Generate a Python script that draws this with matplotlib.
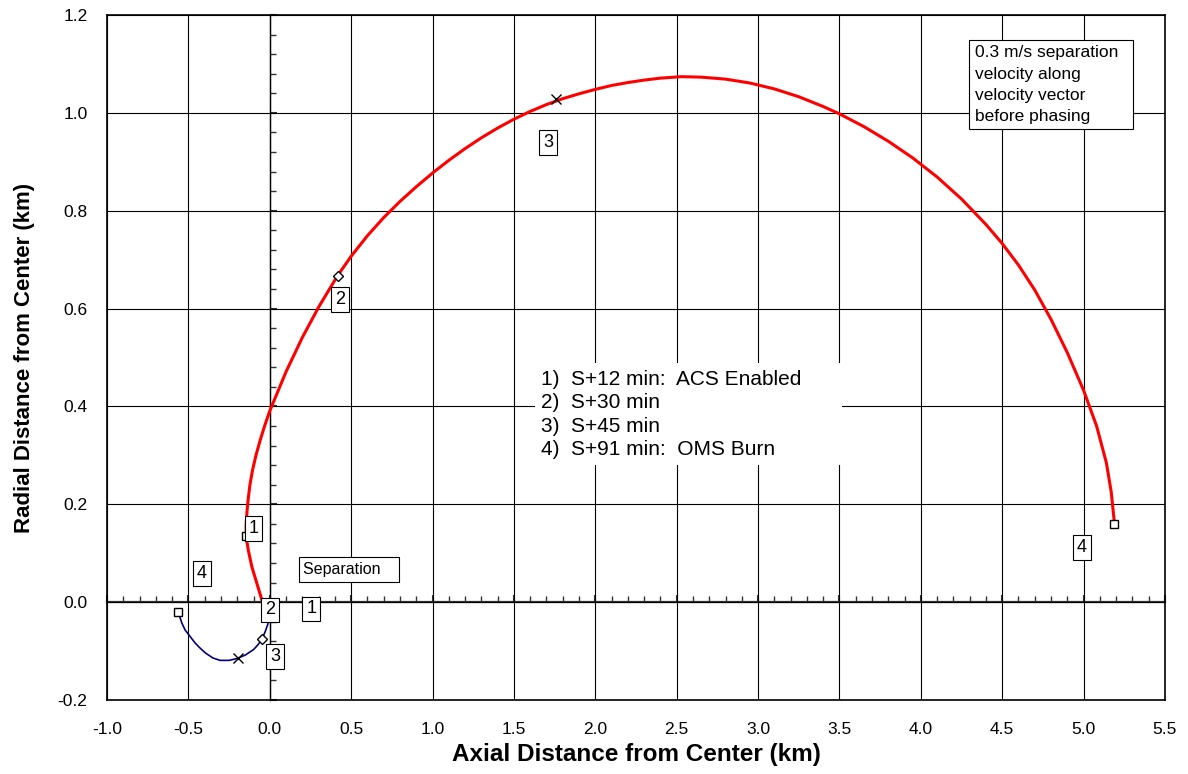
import numpy as np
import matplotlib
matplotlib.use("Agg")
import matplotlib.pyplot as plt
from matplotlib.ticker import MultipleLocator, FormatStrFormatter

plt.rcParams['font.family'] = ['Liberation Sans', 'DejaVu Sans']

# trajectory after separation (km)
red_x = [-0.04, -0.08, -0.11, -0.132, -0.146, -0.145, -0.14, -0.133, -0.122, -0.106,
         -0.085, -0.06, -0.03, 0.0, 0.1, 0.2, 0.3, 0.416, 0.5, 0.6,
         0.7, 0.8, 0.9, 1.0, 1.1, 1.2, 1.3, 1.4, 1.5, 1.6,
         1.7, 1.8, 1.9, 2.0, 2.1, 2.2, 2.3, 2.4, 2.53, 2.65,
         2.8, 2.95, 3.1, 3.25, 3.4, 3.5, 3.65, 3.8, 3.95, 4.1,
         4.25, 4.4, 4.5, 4.6, 4.7, 4.8, 4.9, 5.0, 5.08, 5.14,
         5.17, 5.19]
red_y = [-0.005, 0.039, 0.072, 0.106, 0.135, 0.16, 0.185, 0.21, 0.24, 0.27,
         0.30, 0.33, 0.362, 0.391, 0.471, 0.541, 0.603, 0.667, 0.707, 0.749,
         0.786, 0.819, 0.849, 0.877, 0.903, 0.927, 0.949, 0.969, 0.987, 1.003,
         1.017, 1.029, 1.039, 1.048, 1.056, 1.062, 1.067, 1.071, 1.074, 1.073,
         1.069, 1.061, 1.049, 1.033, 1.013, 0.998, 0.972, 0.942, 0.908, 0.869,
         0.824, 0.772, 0.733, 0.689, 0.638, 0.578, 0.51, 0.433, 0.36, 0.285,
         0.225, 0.16]

blue_x = [-0.002, -0.012, -0.028, -0.048, -0.075, -0.1, -0.15, -0.198, -0.25, -0.305,
          -0.35, -0.395, -0.428, -0.46, -0.49, -0.52, -0.54, -0.553, -0.562]
blue_y = [-0.030, -0.045, -0.060, -0.076, -0.088, -0.097, -0.108, -0.115, -0.119, -0.119,
          -0.114, -0.104, -0.094, -0.083, -0.070, -0.057, -0.043, -0.030, -0.020]

# event markers: square = S+12 / S+91, diamond = S+30, x = S+45
red_sq_x, red_sq_y = [-0.146, 5.19], [0.135, 0.16]
red_dm_x, red_dm_y = [0.416], [0.667]
red_x_x, red_x_y = [1.758], [1.029]
blue_sq_x, blue_sq_y = [-0.562], [-0.020]
blue_dm_x, blue_dm_y = [-0.048], [-0.076]
blue_x_x, blue_x_y = [-0.198], [-0.115]

tag_text = ['1', '2', '3', '4', '2', '1', '3', '4']
tag_x = [-0.10, 0.43, 1.71, 4.99, 0.003, 0.256, 0.034, -0.416]
tag_y = [0.151, 0.618, 0.939, 0.112, -0.016, -0.014, -0.112, 0.059]

events = ["1)  S+12 min:  ACS Enabled      ",
          "2)  S+30 min",
          "3)  S+45 min",
          "4)  S+91 min:  OMS Burn"]

note = "0.3 m/s separation  \nvelocity along\nvelocity vector\nbefore phasing"

fig = plt.figure(figsize=(11.88, 7.74), dpi=100)
pos = [0.0901, 0.0956, 0.8905, 0.885]

# axes through the origin with minor ticks, drawn underneath
ax0 = fig.add_axes(pos)
ax0.set_zorder(1)
ax0.set_xlim(-1.0, 5.5)
ax0.set_ylim(-0.2, 1.2)
for s in ['top', 'right']:
    ax0.spines[s].set_visible(False)
ax0.spines['left'].set_position(('data', 0))
ax0.spines['bottom'].set_position(('data', 0))
ax0.spines['left'].set_linewidth(1.0)
ax0.spines['bottom'].set_linewidth(1.6)
ax0.spines['bottom'].set_color('#333333')
ax0.xaxis.set_major_locator(MultipleLocator(0.5))
ax0.xaxis.set_minor_locator(MultipleLocator(0.1))
ax0.yaxis.set_major_locator(MultipleLocator(0.2))
ax0.yaxis.set_minor_locator(MultipleLocator(0.04))
ax0.tick_params(which='both', direction='in', labelleft=False, labelbottom=False, color='#333333')
ax0.tick_params(which='major', length=5, width=1.5)
ax0.tick_params(which='minor', length=4, width=1.0)

ax = fig.add_axes(pos)
ax.set_zorder(2)
ax.patch.set_visible(False)
ax.set_xlim(-1.0, 5.5)
ax.set_ylim(-0.2, 1.2)
ax.xaxis.set_major_locator(MultipleLocator(0.5))
ax.yaxis.set_major_locator(MultipleLocator(0.2))
ax.xaxis.set_major_formatter(FormatStrFormatter('%.1f'))
ax.yaxis.set_major_formatter(FormatStrFormatter('%.1f'))
ax.tick_params(length=0, labelsize=12.5)
ax.tick_params(axis='y', pad=14)
ax.tick_params(axis='x', pad=16)
ax.grid(True, color='black', linewidth=0.8)
ax.set_axisbelow(True)
for s in ax.spines.values():
    s.set_linewidth(1.2)

ax.plot(red_x, red_y, color='#ff0000', linewidth=2.2, zorder=3)
ax.plot(blue_x, blue_y, color='#000080', linewidth=1.2, zorder=3)

mk = dict(linestyle='none', color='black', zorder=4)
ax.plot(red_sq_x + blue_sq_x, red_sq_y + blue_sq_y, marker='s', markersize=6,
        markerfacecolor='white', markeredgewidth=1.0, **mk)
ax.plot(red_dm_x + blue_dm_x, red_dm_y + blue_dm_y, marker='D', markersize=5,
        markerfacecolor='white', markeredgewidth=1.0, **mk)
ax.plot(red_x_x + blue_x_x, red_x_y + blue_x_y, marker='x', markersize=7,
        markeredgewidth=1.0, **mk)

for t, x, y in zip(tag_text, tag_x, tag_y):
    ax.text(x, y, t, fontsize=13, ha='center', va='center', zorder=5,
            bbox=dict(boxstyle='square,pad=0.22', facecolor='white', edgecolor='black', linewidth=0.8))

ax.text(0.207, 0.067, "Separation   ", fontsize=11.5, ha='left', va='center', zorder=5,
        bbox=dict(boxstyle='square,pad=0.3', facecolor='white', edgecolor='black', linewidth=0.8))

ax.text(4.33, 1.138, note, fontsize=12.5, ha='left', va='top', linespacing=1.52, zorder=5,
        bbox=dict(boxstyle='square,pad=0.3', facecolor='white', edgecolor='black', linewidth=0.8))

ax.text(1.666, 0.384, "\n".join(events), fontsize=15, ha='left', va='center',
        linespacing=1.3, zorder=5,
        bbox=dict(boxstyle='square,pad=0.3', facecolor='white', edgecolor='none'))

ax.set_xlabel("Axial Distance from Center (km)", fontsize=17.5, fontweight='bold', labelpad=4)
ax.set_ylabel("Radial Distance from Center (km)", fontsize=16, fontweight='bold', labelpad=16)

fig.savefig("out.png", dpi=100)
